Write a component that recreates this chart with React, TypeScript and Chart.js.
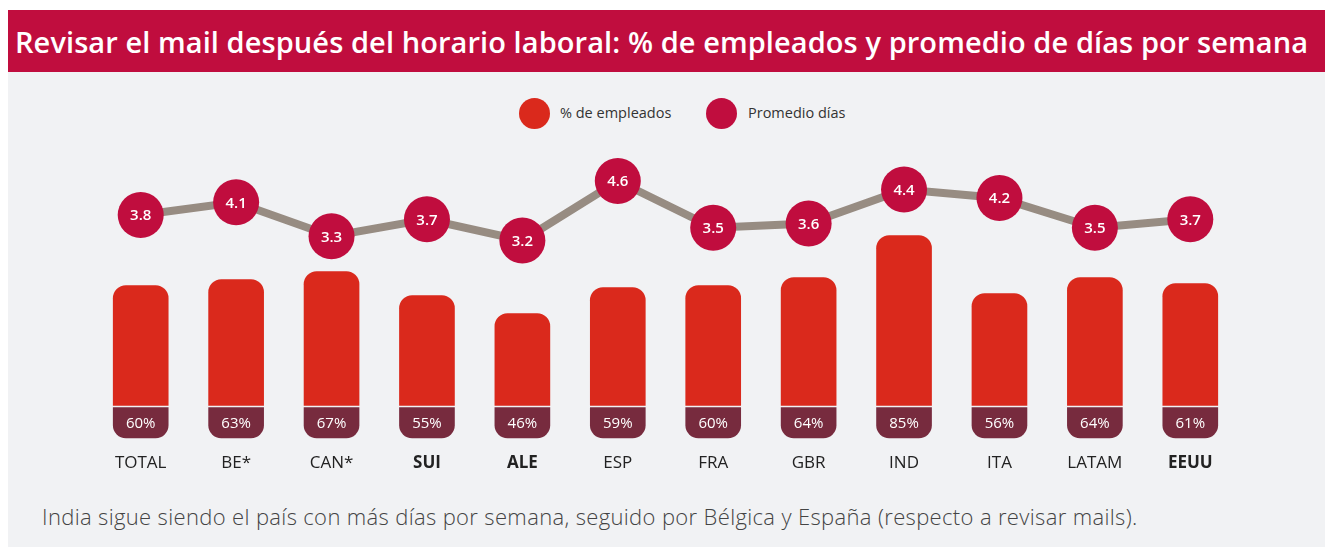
import React, { useEffect, useRef } from "react";
import { Chart, registerables } from "chart.js";

Chart.register(...registerables);

const title = "Revisar el mail después del horario laboral: % de empleados y promedio de días por semana";
const footnote = "India sigue siendo el país con más días por semana, seguido por Bélgica y España (respecto a revisar mails).";
const categories = ["TOTAL", "BE*", "CAN*", "SUI", "ALE", "ESP", "FRA", "GBR", "IND", "ITA", "LATAM", "EEUU"];
const boldCategories = ["SUI", "ALE", "EEUU"];
const employeesPct = [60, 63, 67, 55, 46, 59, 60, 64, 85, 56, 64, 61];
const avgDays = [3.8, 4.1, 3.3, 3.7, 3.2, 4.6, 3.5, 3.6, 4.4, 4.2, 3.5, 3.7];
const seriesLabels = ["% de empleados", "Promedio días"];

const RED = "#da291c";
const DARK = "#772b3e";
const CRIMSON = "#c00d3e";
const LINE = "#978c82";
const BG = "#f1f2f4";
const FONT = "'Open Sans', Lato, sans-serif";

// label box below each bar (in % units of the bar scale)
const BOX_BOTTOM = -16.25;
const BOX_TOP = -1;

const labelPlugin = {
  id: "valueLabels",
  afterDatasetsDraw(chart: any) {
    const ctx = chart.ctx;
    const yS = chart.scales.y;
    ctx.save();
    ctx.fillStyle = "#ffffff";
    ctx.textAlign = "center";
    ctx.textBaseline = "middle";
    ctx.font = `500 15px ${FONT}`;
    const barMeta = chart.getDatasetMeta(1);
    barMeta.data.forEach((el: any, i: number) => {
      ctx.fillText(employeesPct[i] + "%", el.x, yS.getPixelForValue((BOX_BOTTOM + BOX_TOP) / 2) + 1);
    });
    const lineMeta = chart.getDatasetMeta(2);
    ctx.font = `600 15px ${FONT}`;
    lineMeta.data.forEach((el: any, i: number) => {
      ctx.fillText(avgDays[i].toFixed(1), el.x, el.y + 1);
    });
    ctx.restore();
  },
};

export default function App() {
  const ref = useRef<HTMLCanvasElement | null>(null);

  useEffect(() => {
    if (!ref.current) return;
    const chart = new Chart(ref.current, {
      type: "bar",
      data: {
        labels: categories,
        datasets: [
          {
            type: "bar",
            label: "box",
            data: categories.map(() => [BOX_BOTTOM, BOX_TOP]) as any,
            backgroundColor: DARK,
            borderRadius: { topLeft: 0, topRight: 0, bottomLeft: 13, bottomRight: 13 },
            borderSkipped: false,
            barThickness: 55,
            grouped: false,
            yAxisID: "y",
            order: 3,
          },
          {
            type: "bar",
            label: seriesLabels[0],
            data: employeesPct.map((v) => [0, v]) as any,
            backgroundColor: RED,
            borderRadius: { topLeft: 13, topRight: 13, bottomLeft: 0, bottomRight: 0 },
            borderSkipped: false,
            barThickness: 55,
            grouped: false,
            yAxisID: "y",
            order: 2,
          },
          {
            type: "line",
            label: seriesLabels[1],
            data: avgDays,
            borderColor: LINE,
            borderWidth: 8,
            pointRadius: 23,
            pointHoverRadius: 23,
            pointBackgroundColor: CRIMSON,
            pointBorderWidth: 0,
            tension: 0,
            yAxisID: "y2",
            order: 1,
          } as any,
        ],
      },
      options: {
        animation: false,
        responsive: false,
        maintainAspectRatio: false,
        layout: { autoPadding: false, padding: { left: 85, right: 87, top: 9.5, bottom: 5.5 } },
        plugins: {
          legend: { display: false },
          tooltip: { enabled: false },
        },
        scales: {
          x: {
            grid: { display: false, drawTicks: false },
            border: { display: false },
            afterFit: (scale: any) => {
              scale.height = 45;
            },
            ticks: {
              padding: 13,
              color: "#222222",
              font: (c: any) => ({
                family: FONT,
                size: 17,
                weight: boldCategories.includes(categories[c.index]) ? "bold" : "500",
              }),
            },
          },
          y: { display: false, min: -17, max: 128 },
          y2: { display: false, min: -1.482, max: 5.341 },
        },
      },
      plugins: [labelPlugin],
    });
    return () => chart.destroy();
  }, []);

  const dot = (color: string, left: number) => (
    <div
      style={{
        position: "absolute",
        left,
        top: 88,
        width: 31,
        height: 31,
        borderRadius: "50%",
        background: color,
      }}
    />
  );
  const legendText = (text: string, left: number) => (
    <div
      style={{
        position: "absolute",
        left,
        top: 93,
        height: 20,
        lineHeight: "20px",
        fontFamily: FONT,
        fontSize: 14.5,
        color: "#333333",
        whiteSpace: "nowrap",
      }}
    >
      {text}
    </div>
  );

  return (
    <div
      style={{
        position: "absolute",
        left: 8,
        top: 10,
        width: 1317,
        height: 537,
        background: BG,
        overflow: "hidden",
      }}
    >
      <div
        style={{
          position: "absolute",
          left: 0,
          top: 0,
          width: 1317,
          height: 62,
          background: CRIMSON,
        }}
      >
        <div
          style={{
            position: "absolute",
            left: 7,
            top: 12,
            height: 40,
            lineHeight: "40px",
            fontFamily: FONT,
            fontWeight: 600,
            fontSize: 29,
            letterSpacing: 0.08,
            color: "#ffffff",
            whiteSpace: "nowrap",
          }}
        >
          {title}
        </div>
      </div>
      {dot(RED, 511)}
      {legendText(seriesLabels[0], 552)}
      {dot(CRIMSON, 698)}
      {legendText(seriesLabels[1], 740)}
      <canvas
        ref={ref}
        width={1317}
        height={350}
        style={{ position: "absolute", left: 0, top: 130, width: 1317, height: 350 }}
      />
      <div
        style={{
          position: "absolute",
          left: 34,
          top: 492,
          height: 28,
          lineHeight: "28px",
          fontFamily: FONT,
          fontWeight: 300,
          fontSize: 22,
          letterSpacing: 0.35,
          color: "#444444",
          whiteSpace: "nowrap",
        }}
      >
        {footnote}
      </div>
    </div>
  );
}
